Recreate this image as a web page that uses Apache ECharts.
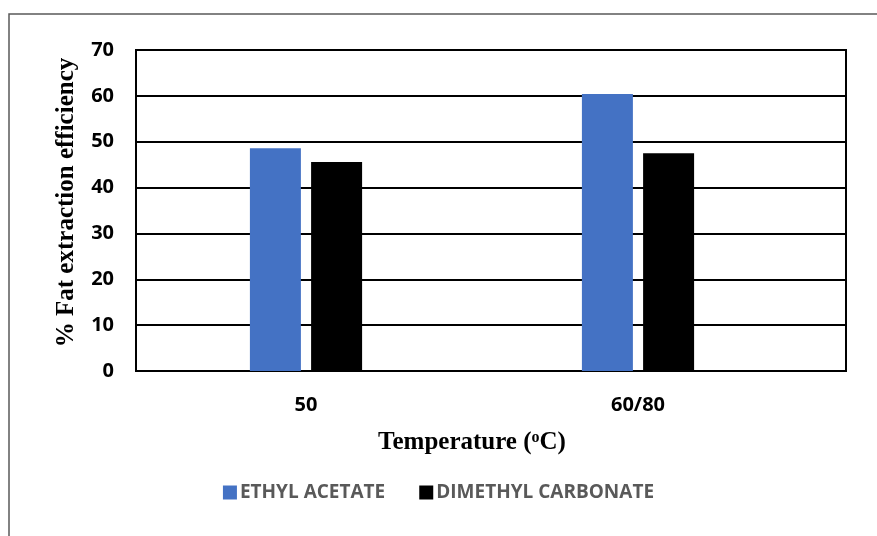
<!DOCTYPE html>
<html>
<head>
<meta charset="utf-8">
<script src="https://cdn.jsdelivr.net/npm/echarts@6/dist/echarts.min.js"></script>
<style>
html,body{margin:0;padding:0;background:#fff;}
#chart{width:877px;height:536px;}
</style>
</head>
<body>
<div id="chart"></div>
<script>
const categories = ['50', '60/80'];
const ethylAcetate = [48.6, 60.4];
const dimethylCarbonate = [45.6, 47.5];
const seriesNames = ['ETHYL ACETATE', 'DIMETHYL CARBONATE'];
const yTicks = [0, 10, 20, 30, 40, 50, 60, 70];

const chart = echarts.init(document.getElementById('chart'));
const sans = '"Open Sans", sans-serif';
const serif = '"Liberation Serif", "Times New Roman", serif';

chart.setOption({
  animation: false,
  backgroundColor: '#fff',
  graphic: [{
    type: 'rect',
    shape: { x: 9, y: 14, width: 900, height: 600 },
    style: { fill: 'none', stroke: '#595959', lineWidth: 1.5 },
    silent: true
  }],
  grid: [
    { left: 136, right: 31, top: 50, bottom: 165, show: true, borderColor: '#000', borderWidth: 2, backgroundColor: 'transparent' },
    { left: 140, right: 73, top: 50, bottom: 165 }
  ],
  legend: {
    data: seriesNames,
    left: 'center',
    top: 478,
    icon: 'rect',
    itemWidth: 14,
    itemHeight: 14,
    itemGap: 34,
    textStyle: { color: '#595959', fontFamily: sans, fontWeight: 'bold', fontSize: 19, padding: [0, 0, 0, -2] }
  },
  xAxis: [
    {
      type: 'category', gridIndex: 0, data: categories,
      axisLine: { show: true, lineStyle: { color: '#000', width: 2 } },
      axisTick: { show: false }, axisLabel: { show: false }, splitLine: { show: false }
    },
    {
      type: 'category', gridIndex: 1, data: categories,
      axisLine: { show: false }, axisTick: { show: false },
      axisLabel: { color: '#000', fontFamily: sans, fontWeight: 'bold', fontSize: 20, margin: 24 },
      name: '{a|Temperature (}{s|o}{a|C)}',
      nameLocation: 'middle',
      nameGap: 59,
      nameTextStyle: {
        rich: {
          a: { fontFamily: serif, fontWeight: 'bold', fontSize: 25, color: '#000' },
          s: { fontFamily: serif, fontWeight: 'bold', fontSize: 16, color: '#000', verticalAlign: 'top', padding: [0, 0, 8, 0] }
        }
      }
    }
  ],
  yAxis: [
    {
      type: 'value', gridIndex: 0, min: 0, max: 70, interval: 10,
      axisLine: { show: true, lineStyle: { color: '#000', width: 2 } },
      axisTick: { show: false },
      axisLabel: {
        color: '#000', fontFamily: sans, fontWeight: 'bold', fontSize: 20, margin: 22,
        formatter: v => (yTicks.includes(v) ? String(v) : '')
      },
      splitLine: { show: true, lineStyle: { color: '#000', width: 2 } },
      name: '% Fat extraction efficiency',
      nameLocation: 'middle',
      nameGap: 57,
      nameTextStyle: { fontFamily: serif, fontWeight: 'bold', fontSize: 25, color: '#000', padding: [0, 0, 0, 16] }
    },
    {
      type: 'value', gridIndex: 1, min: 0, max: 70, interval: 10, show: false,
      splitLine: { show: false }
    }
  ],
  series: [
    {
      name: seriesNames[0], type: 'bar', xAxisIndex: 1, yAxisIndex: 1,
      data: ethylAcetate, barWidth: 51, barGap: '20%',
      itemStyle: { color: '#4472C4' }
    },
    {
      name: seriesNames[1], type: 'bar', xAxisIndex: 1, yAxisIndex: 1,
      data: dimethylCarbonate, barWidth: 51, barGap: '20%',
      itemStyle: { color: '#000000' }
    }
  ]
});
</script>
</body>
</html>
